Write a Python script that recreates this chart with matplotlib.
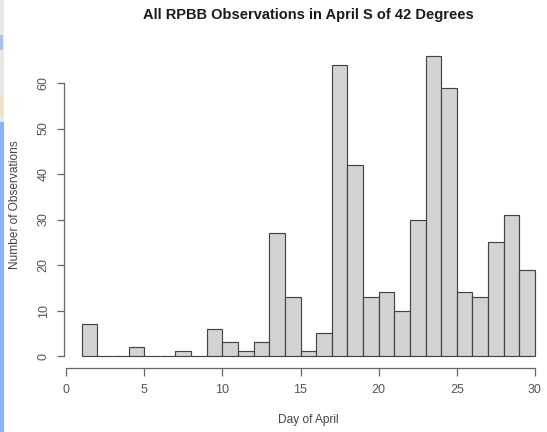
import matplotlib
matplotlib.use('Agg')
import matplotlib.pyplot as plt
from matplotlib.patches import Rectangle

# histogram bins, one per day
days = list(range(1, 30))
counts = [7, 0, 0, 2, 0, 0, 1, 0, 6, 3, 1, 3, 27, 13, 1, 5, 64, 42, 13, 14, 10, 30, 66, 59, 14, 13, 25, 31, 19]
xticks = [0, 5, 10, 15, 20, 25, 30]
yticks = [0, 10, 20, 30, 40, 50, 60]

W, H = 547, 432
plt.rcParams['font.family'] = ['Liberation Sans', 'DejaVu Sans']

fig = plt.figure(figsize=(W / 100, H / 100), dpi=100)
# axes box in pixels: x 66..535, y=0 at 356, 4.55 px per count
top = 356 - 70 * 4.55
ax = fig.add_axes([66 / W, (H - 356) / H, (535 - 66) / W, (356 - top) / H])
ax.bar(days, counts, width=1, align='edge', color='#d3d3d3', edgecolor='#444444', linewidth=0.85, clip_on=False)
ax.set_xlim(0, 30)
ax.set_ylim(0, 70)

for s in ['top', 'right']:
    ax.spines[s].set_visible(False)
ax.spines['left'].set_position(('outward', 1.7))
ax.spines['left'].set_bounds(0, 60)
ax.spines['bottom'].set_position(('outward', 8.6))
ax.spines['bottom'].set_bounds(0, 30)
for s in ['left', 'bottom']:
    ax.spines[s].set_color('#666666')
    ax.spines[s].set_linewidth(0.9)

ax.set_xticks(xticks)
ax.set_yticks(yticks)
ax.tick_params(axis='x', length=5.4, width=0.9, color='#666666', labelcolor='#555555', labelsize=9, pad=6.5)
ax.tick_params(axis='y', length=5, width=0.9, color='#666666', labelcolor='#555555', labelsize=9, pad=5)
plt.setp(ax.get_yticklabels(), rotation=90, va='center')

fig.text(308 / W, 1 - 14.5 / H, 'All RPBB Observations in April S of 42 Degrees', ha='center', va='center',
         fontsize=10.5, fontweight='bold', color='#1a1a1a')
fig.text(308 / W, 1 - 420 / H, 'Day of April', ha='center', va='center', fontsize=8.6, color='#444444')
fig.text(15 / W, 1 - 205 / H, 'Number of Observations', rotation=90, ha='center', va='center', fontsize=8.6, color='#444444')

# window edge left of the screenshot
fig.add_artist(Rectangle((0, 0), 4 / W, 1 - 122 / H, transform=fig.transFigure, color='#8ab4f8', lw=0))
fig.add_artist(Rectangle((0, 1 - 122 / H), 4 / W, 122 / H, transform=fig.transFigure, color='#e8e8e4', lw=0))
fig.add_artist(Rectangle((0, 1 - 50 / H), 3 / W, 15 / H, transform=fig.transFigure, color='#a9c4f0', lw=0))
fig.add_artist(Rectangle((0, 1 - 115 / H), 3 / W, 18 / H, transform=fig.transFigure, color='#ecdfc0', lw=0))

fig.savefig('out.png', dpi=100)
